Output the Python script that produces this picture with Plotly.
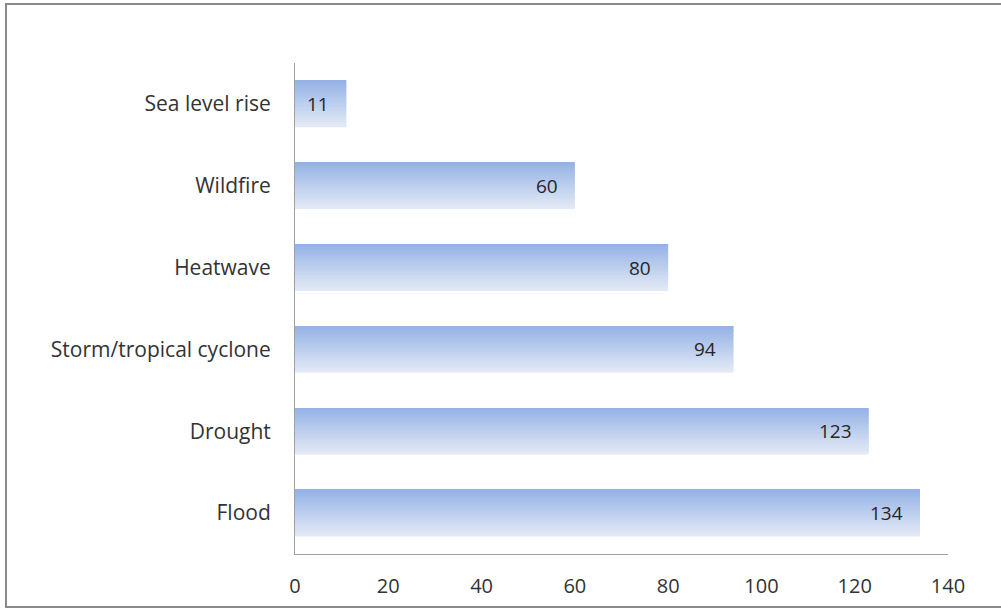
import plotly.graph_objects as go

categories = ["Sea level rise", "Wildfire", "Heatwave", "Storm/tropical cyclone", "Drought", "Flood"]
values = [11, 60, 80, 94, 123, 134]
x_ticks = [0, 20, 40, 60, 80, 100, 120, 140]

top_rgb = (149, 178, 230)
bot_rgb = (226, 233, 245)
N = 30
W = 0.565
FONT = "Open Sans, sans-serif"

fig = go.Figure()
for i in range(N):
    t = i / (N - 1)
    c = tuple(round(top_rgb[k] + (bot_rgb[k] - top_rgb[k]) * t) for k in range(3))
    fig.add_trace(go.Bar(
        y=categories, x=values, orientation="h",
        width=W / N * 1.15, offset=-W / 2 + i * W / N,
        marker=dict(color="rgb(%d,%d,%d)" % c, line=dict(width=0)),
        showlegend=False, hoverinfo="skip",
    ))

for cat, v in zip(categories, values):
    fig.add_annotation(x=v, y=cat, text=str(v), showarrow=False, xanchor="right",
                       xshift=-15, font=dict(size=19, color="#262626", family=FONT))

L, R, T, B = 295, 53, 63, 56
pw, ph = 1001 - L - R, 610 - T - B
fig.add_shape(type="rect", xref="paper", yref="paper",
              x0=(6 - L) / pw, x1=(1004 - L) / pw,
              y0=(610 - B - 607) / ph, y1=(610 - B - 4) / ph,
              line=dict(color="#8a8a8a", width=2), fillcolor="rgba(0,0,0,0)", layer="below")

fig.update_layout(
    width=1001, height=610, barmode="overlay",
    margin=dict(l=L, r=R, t=T, b=B),
    plot_bgcolor="white", paper_bgcolor="white",
    font=dict(family=FONT, size=18, color="#333333"),
    xaxis=dict(range=[0, 140], tickvals=x_ticks, showgrid=False, zeroline=False,
               showline=True, linecolor="#a0a0a0", linewidth=1, ticks="",
               ticklabelstandoff=14, tickfont=dict(size=20, color="#333333")),
    yaxis=dict(autorange="reversed", showgrid=False, zeroline=False,
               showline=True, linecolor="#a0a0a0", linewidth=1, ticks="",
               ticklabelstandoff=19, tickfont=dict(size=21, color="#333333")),
)
fig.write_html("out.html")
